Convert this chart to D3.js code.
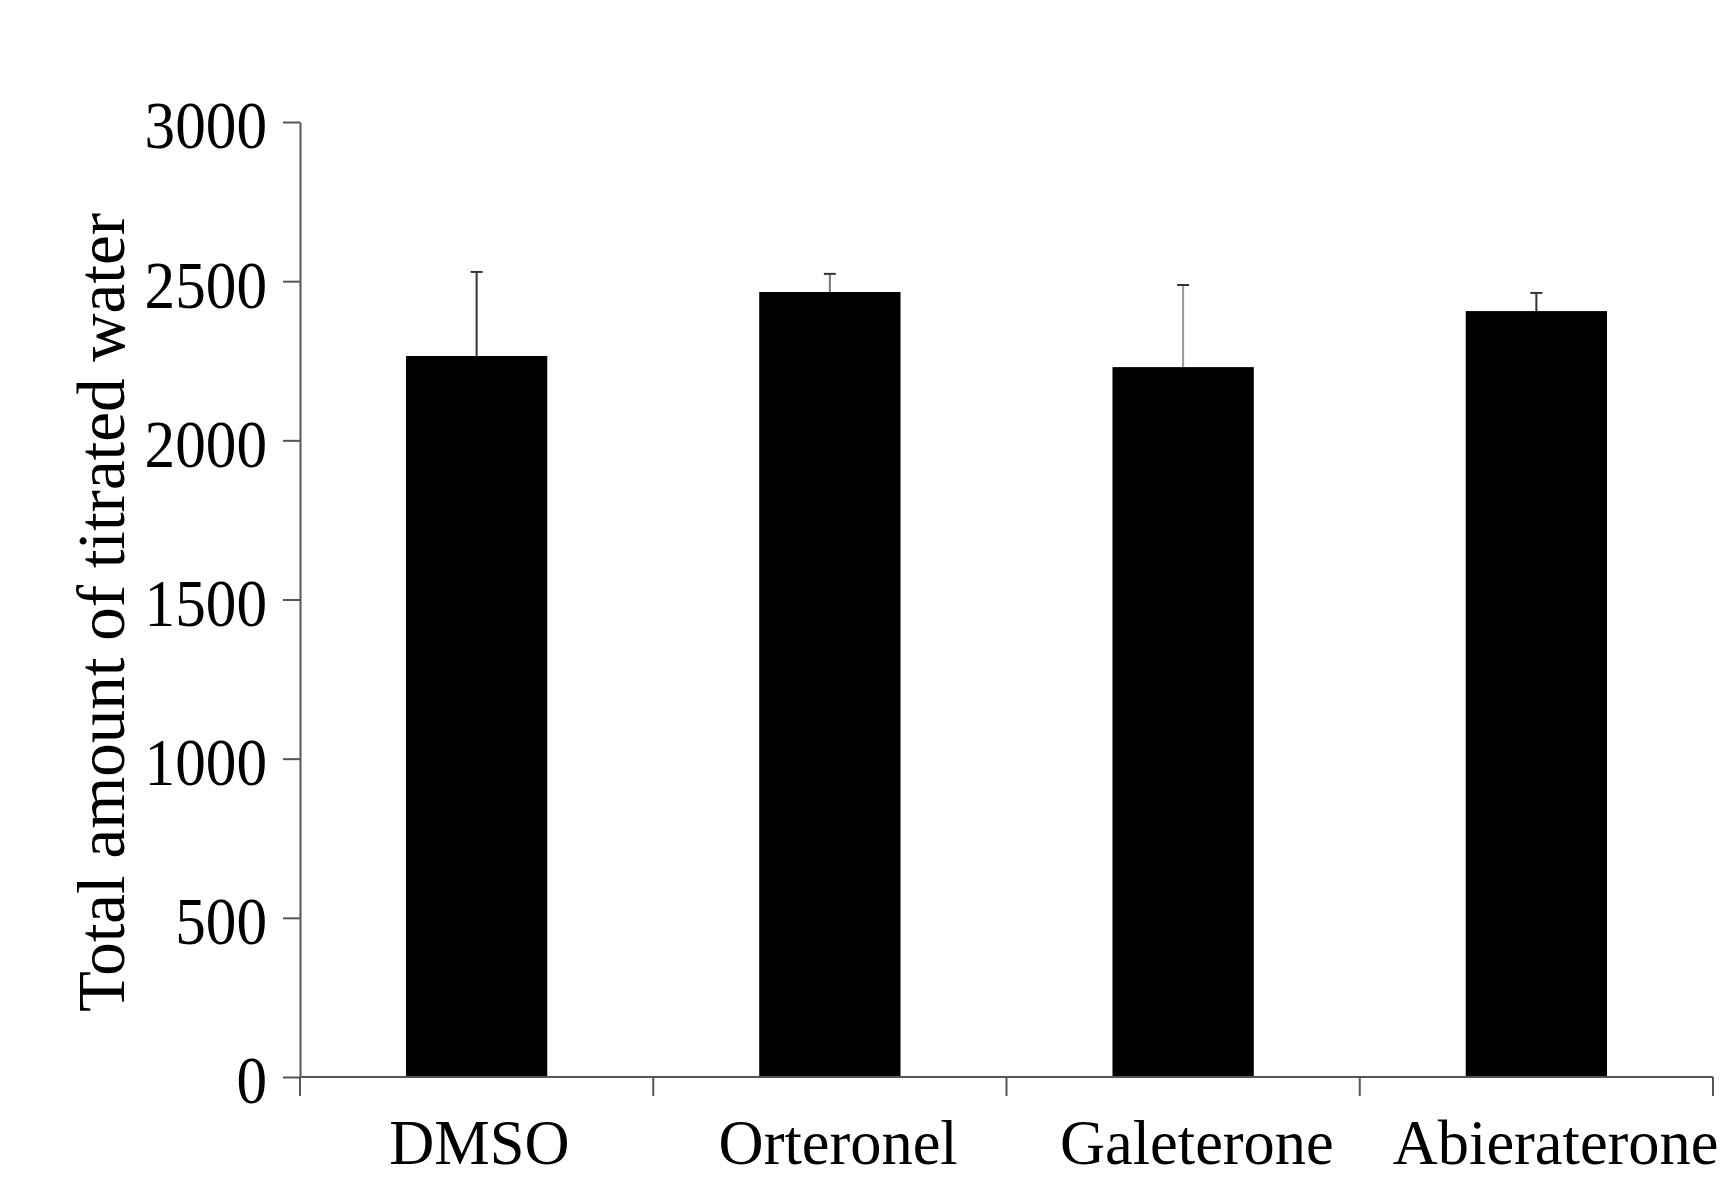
<!DOCTYPE html>
<html>
<head>
<meta charset="utf-8">
<script src="https://cdn.jsdelivr.net/npm/d3@7"></script>
<style>
  body { margin: 0; background: #fff; }
  text { font-family: "Liberation Serif", "Times New Roman", serif; fill: #000; }
</style>
</head>
<body>
<div id="chart"></div>
<script>
// data
var categories = ["DMSO", "Orteronel", "Galeterone", "Abieraterone"];
var means = [2265, 2466, 2230, 2406];
var errors = [264, 57, 258, 57];
var yTicks = [0, 500, 1000, 1500, 2000, 2500, 3000];
var yLabel = "Total amount of titrated water";

// error bar colours as they appear in the scan
var errStroke = ["#333", "#777", "#999", "#333"];

var W = 1731, H = 1180;
var margin = {top: 122, right: 18, bottom: 103, left: 300};
var width = W - margin.left - margin.right;
var height = H - margin.top - margin.bottom;

var svg = d3.select("#chart").append("svg")
    .attr("width", W)
    .attr("height", H);

svg.append("rect").attr("width", W).attr("height", H).attr("fill", "#fff");

var g = svg.append("g")
    .attr("transform", "translate(" + margin.left + "," + margin.top + ")");

var x = d3.scaleBand().domain(categories).range([0, width]).padding(0);
var y = d3.scaleLinear().domain([0, 3000]).range([height, 0]);
// category labels sit on a slightly wider spacing than the bars in the original
var xLab = d3.scaleBand().domain(categories).range([0, width + 22]).padding(0);

var barW = x.bandwidth() * 0.4;

//bars
g.selectAll("rect.bar")
    .data(means)
    .enter()
    .append("rect")
    .attr("class", "bar")
    .attr("x", function(d, i) { return x(categories[i]) + x.bandwidth() / 2 - barW / 2; })
    .attr("y", function(d) { return y(d); })
    .attr("width", barW)
    .attr("height", function(d) { return height - y(d); })
    .attr("fill", "#000");

//error bars (upper only)
var eb = g.selectAll("g.err")
    .data(means)
    .enter()
    .append("g")
    .attr("class", "err")
    .attr("stroke", function(d, i) { return errStroke[i]; })
    .attr("stroke-width", 2);

eb.append("line")
    .attr("x1", function(d, i) { return x(categories[i]) + x.bandwidth() / 2; })
    .attr("x2", function(d, i) { return x(categories[i]) + x.bandwidth() / 2; })
    .attr("y1", function(d) { return y(d); })
    .attr("y2", function(d, i) { return y(d + errors[i]); });

eb.append("line")
    .attr("stroke", "#333")
    .attr("x1", function(d, i) { return x(categories[i]) + x.bandwidth() / 2 - 6; })
    .attr("x2", function(d, i) { return x(categories[i]) + x.bandwidth() / 2 + 6; })
    .attr("y1", function(d, i) { return y(d + errors[i]); })
    .attr("y2", function(d, i) { return y(d + errors[i]); });

//y axis
var yAxis = d3.axisLeft(y)
    .tickValues(yTicks)
    .tickFormat(function(d) { return d; })
    .tickSizeInner(17)
    .tickSizeOuter(0)
    .tickPadding(16);

var ya = g.append("g").attr("class", "yAxis").call(yAxis);
ya.select(".domain").attr("stroke", "#555").attr("stroke-width", 2);
ya.selectAll(".tick line").attr("stroke", "#555").attr("stroke-width", 2);
ya.selectAll(".tick text")
    .style("font-size", "68px")
    .attr("dy", "0.38em");

//x axis - line plus ticks on the category boundaries
var xa = g.append("g").attr("class", "xAxis");
xa.append("line")
    .attr("x1", 0).attr("x2", width)
    .attr("y1", height).attr("y2", height)
    .attr("stroke", "#555").attr("stroke-width", 2);

var bounds = categories.map(function(c) { return x(c); }).concat([x.range()[1]]);
xa.selectAll("line.tk")
    .data(bounds)
    .enter()
    .append("line")
    .attr("class", "tk")
    .attr("x1", function(d) { return d; })
    .attr("x2", function(d) { return d; })
    .attr("y1", height)
    .attr("y2", height + 19)
    .attr("stroke", "#555")
    .attr("stroke-width", 2);

xa.selectAll("text")
    .data(categories)
    .enter()
    .append("text")
    .attr("class", "xlab")
    .attr("x", function(d) { return xLab(d) + xLab.bandwidth() / 2; })
    .attr("y", height + 87)
    .attr("text-anchor", "middle")
    .style("font-size", "64px")
    .text(function(d) { return d; });

// the scan's lettering is a bit narrower than Liberation Serif
svg.selectAll(".yAxis .tick text").each(function() {
    var len = this.getComputedTextLength();
    d3.select(this).attr("textLength", len * 0.9).attr("lengthAdjust", "spacingAndGlyphs");
});
svg.selectAll(".xlab").each(function() {
    var len = this.getComputedTextLength();
    d3.select(this).attr("textLength", len * 0.975).attr("lengthAdjust", "spacingAndGlyphs");
});

//y title
svg.append("text")
    .attr("transform", "translate(124," + (margin.top + height / 2 + 13) + ") rotate(-90)")
    .attr("text-anchor", "middle")
    .style("font-size", "67px")
    .text(yLabel);
</script>
</body>
</html>
